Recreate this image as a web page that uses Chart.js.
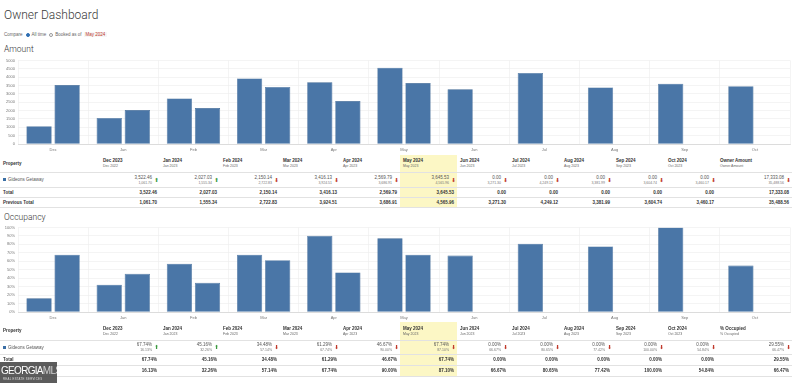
<!DOCTYPE html>
<html>
<head>
<meta charset="utf-8">
<script src="https://cdn.jsdelivr.net/npm/chart.js@4.4.1/dist/chart.umd.min.js"></script>
<style>
  html, body { margin: 0; padding: 0; background: #fff; width: 800px; height: 383px; overflow: hidden; }
  body { font-family: "Liberation Sans", Arial, Helvetica, sans-serif; color: #333; position: relative; }
  .abs { position: absolute; }
  #title { left: 4px; top: 8px; font-size: 12px; font-weight: 300; color: #3a3a3a; font-family: Roboto, "Liberation Sans", Arial, sans-serif; }
  #compare { left: 4px; top: 32px; font-size: 4.5px; color: #666; display: flex; align-items: center; white-space: nowrap; }
  .radio { display: inline-block; width: 4px; height: 4px; border-radius: 50%; border: 0.6px solid #999; margin: 0 2px 0 3px; box-sizing: border-box; }
  .radio.on { background: #2f6fb3; border-color: #2f6fb3; }
  .date { color: #c0392b; background: #f6f6f6; padding: 0 2px; margin-left: 2px; }
  .h2 { left: 4px; font-size: 8.5px; color: #333; font-family: Roboto, "Liberation Sans", Arial, sans-serif; font-weight: 300; }
  .chartbox { left: 0; width: 795px; height: 100px; }
  table { position: absolute; left: 0; border-collapse: collapse; table-layout: fixed; width: 792px; font-size: 4.5px; color: #444; }
  td { padding: 0 3px 0 3px; border-bottom: 0.6px solid #e2e2e2; overflow: hidden; white-space: nowrap; }
  .hdr td { vertical-align: middle; text-align: left; font-weight: bold; color: #333; }
  .hdr .sub { font-weight: normal; font-size: 3.5px; color: #666; margin-top: 1px; }
  .num { text-align: right; }
  .bold td { font-weight: bold; color: #333; }
  .hl { background: #fcf7c5; }
  .cellv { display: flex; justify-content: flex-end; align-items: center; }
  .cellv .v { text-align: right; color: #555; }
  .cellv .v .s { font-size: 3.5px; color: #777; margin-top: 1px; }
  .arrow { font-family: "DejaVu Sans", sans-serif; font-size: 5.5px; margin-left: 2px; width: 5px; text-align: center; line-height: 6px; }
  .up { color: #3b9a3f; }
  .down { color: #c0392b; }
  .sq { display: inline-block; width: 3px; height: 3px; background: #3a6ea5; margin-right: 2px; vertical-align: middle; }
  #logo { left: 0; top: 362px; width: 57px; height: 21px; background: rgba(70,70,70,0.88); color: #fff; overflow: hidden; }
  #logo .t { position: absolute; left: 1px; top: 3px; font-size: 10px; letter-spacing: -0.7px; }
  #logo .t span { color: #cfcfcf; font-weight: 300; }
  #logo .s { position: absolute; left: 3px; top: 15px; font-size: 2.8px; color: #ddd; letter-spacing: 0.3px; }
</style>
</head>
<body>
<div id="title" class="abs">Owner Dashboard</div>
<div id="compare" class="abs">Compare <span class="radio on"></span>All time <span class="radio"></span>Booked as of <span class="date">May 2024</span></div>

<div class="abs h2" style="top:44px;">Amount</div>
<div class="abs chartbox" style="top:55px;"><canvas id="amountChart" width="795" height="100"></canvas></div>
<table id="amountTable" style="top:155px;"></table>

<div class="abs h2" style="top:212px;">Occupancy</div>
<div class="abs chartbox" style="top:222px;"><canvas id="occChart" width="795" height="101"></canvas></div>
<table id="occTable" style="top:322px;"></table>

<div id="logo" class="abs"><div class="t">GEORGIA<span>MLS</span></div><div class="s">REAL ESTATE SERVICES</div></div>

<script>
// ---------- DATA ----------
const categories = ['Dec', 'Jan', 'Feb', 'Mar', 'Apr', 'May', 'Jun', 'Jul', 'Aug', 'Sep', 'Oct'];
const currentMonths = ['Dec 2023', 'Jan 2024', 'Feb 2024', 'Mar 2024', 'Apr 2024', 'May 2024', 'Jun 2024', 'Jul 2024', 'Aug 2024', 'Sep 2024', 'Oct 2024'];
const previousMonths = ['Dec 2022', 'Jan 2023', 'Feb 2023', 'Mar 2023', 'Apr 2023', 'May 2023', 'Jun 2023', 'Jul 2023', 'Aug 2023', 'Sep 2023', 'Oct 2023'];

const amountPrevious = [1061.70, 1555.34, 2722.83, 3924.51, 3686.91, 4565.96, 3271.30, 4249.12, 3381.99, 3604.74, 3460.17];
const amountCurrent = [3522.46, 2027.03, 2150.14, 3416.13, 2569.79, 3645.53, 0, 0, 0, 0, 0];
const amountTotalLabel = 'Owner Amount';
const amountTotalCurrent = '17,333.08';
const amountTotalPrevious = '35,488.56';

const occPrevious = [16.13, 32.26, 57.14, 67.74, 90.00, 87.10, 66.67, 80.65, 77.42, 100.00, 54.84];
const occCurrent = [67.74, 45.16, 34.48, 61.29, 46.67, 67.74, 0, 0, 0, 0, 0];
const occTotalLabel = '% Occupied';
const occTotalCurrent = '29.55%';
const occTotalPrevious = '66.47%';

const propertyName = 'Gideons Getaway';
const amountTicks = [0, 500, 1000, 1500, 2000, 2500, 3000, 3500, 4000, 4500, 5000];
const occTicks = [0, 10, 20, 30, 40, 50, 60, 70, 80, 90, 100];
const highlightIndex = 5;

// ---------- CHARTS ----------
const barColor = '#4a76a7';
function makeChart(id, prev, cur, max, step, fmt) {
  return new Chart(document.getElementById(id), {
    type: 'bar',
    data: {
      labels: categories,
      datasets: [
        { label: 'Previous', data: prev, backgroundColor: barColor, borderColor: '#3f6894', borderWidth: 0.6 },
        { label: 'Current', data: cur, backgroundColor: barColor, borderColor: '#3f6894', borderWidth: 0.6 }
      ]
    },
    options: {
      responsive: false,
      animation: false,
      layout: { padding: { top: 4, right: 5, left: 0, bottom: 2 } },
      plugins: { legend: { display: false }, tooltip: { enabled: false } },
      scales: {
        x: {
          grid: { color: '#efefef', lineWidth: 0.7, offset: true, drawTicks: false },
          border: { color: '#dcdcdc' },
          ticks: { font: { size: 4, family: 'Liberation Sans' }, color: '#777', padding: 3, maxRotation: 0 },
          afterFit: s => { s.height = 9; }
        },
        y: {
          min: 0, max: max,
          grid: { color: '#efefef', lineWidth: 0.7, drawTicks: false },
          border: { display: false },
          ticks: { stepSize: step, font: { size: 4, family: 'Liberation Sans' }, color: '#777', padding: 3, callback: fmt },
          afterFit: s => { s.width = 18; }
        }
      }
    }
  });
}
makeChart('amountChart', amountPrevious, amountCurrent, amountTicks[amountTicks.length - 1], amountTicks[1] - amountTicks[0], v => String(v));
makeChart('occChart', occPrevious, occCurrent, occTicks[occTicks.length - 1], occTicks[1] - occTicks[0], v => v + '%');

// ---------- TABLES ----------
const colWidths = [100, 60, 60, 60, 60, 60, 57, 52, 52, 52, 52, 52, 75];
function fmtAmt(v) { return v.toLocaleString('en-US', { minimumFractionDigits: 2, maximumFractionDigits: 2 }); }
function fmtPct(v) { return v.toFixed(2) + '%'; }

function buildTable(id, prev, cur, fmt, totalLabel, totCur, totPrev, rowH) {
  const t = document.getElementById(id);
  let html = '<colgroup>' + colWidths.map(w => '<col style="width:' + w + 'px">').join('') + '</colgroup>';
  html += '<tr class="hdr" style="height:' + rowH[0] + 'px"><td>Property</td>';
  currentMonths.forEach((m, i) => {
    html += '<td' + (i === highlightIndex ? ' class="hl"' : '') + '>' + m + '<div class="sub">' + previousMonths[i] + '</div></td>';
  });
  html += '<td>' + totalLabel + '<div class="sub">' + totalLabel + '</div></td></tr>';
  html += '<tr style="height:' + rowH[1] + 'px"><td style="color:#555"><span class="sq"></span>' + propertyName + '</td>';
  cur.forEach((v, i) => {
    const up = v > prev[i];
    html += '<td' + (i === highlightIndex ? ' class="hl"' : '') + ' style="padding-right:1px"><div class="cellv"><div class="v">' + fmt(v) +
      '<div class="s">' + fmt(prev[i]) + '</div></div><span class="arrow ' + (up ? 'up">\u2B06' : 'down">\u2B07') + '</span></div></td>';
  });
  html += '<td style="padding-right:1px"><div class="cellv"><div class="v">' + totCur + '<div class="s">' + totPrev +
    '</div></div><span class="arrow down">\u2B07</span></div></td></tr>';
  html += '<tr class="bold" style="height:' + rowH[2] + 'px"><td>Total</td>';
  cur.forEach((v, i) => { html += '<td class="num' + (i === highlightIndex ? ' hl' : '') + '">' + fmt(v) + '</td>'; });
  html += '<td class="num">' + totCur + '</td></tr>';
  html += '<tr class="bold" style="height:' + rowH[3] + 'px"><td>Previous Total</td>';
  prev.forEach((v, i) => { html += '<td class="num' + (i === highlightIndex ? ' hl' : '') + '">' + fmt(v) + '</td>'; });
  html += '<td class="num">' + totPrev + '</td></tr>';
  t.innerHTML = html;
}
buildTable('amountTable', amountPrevious, amountCurrent, fmtAmt, amountTotalLabel, amountTotalCurrent, amountTotalPrevious, [17, 15, 10, 10]);
buildTable('occTable', occPrevious, occCurrent, fmtPct, occTotalLabel, occTotalCurrent, occTotalPrevious, [18, 14, 11, 11]);
</script>
</body>
</html>
